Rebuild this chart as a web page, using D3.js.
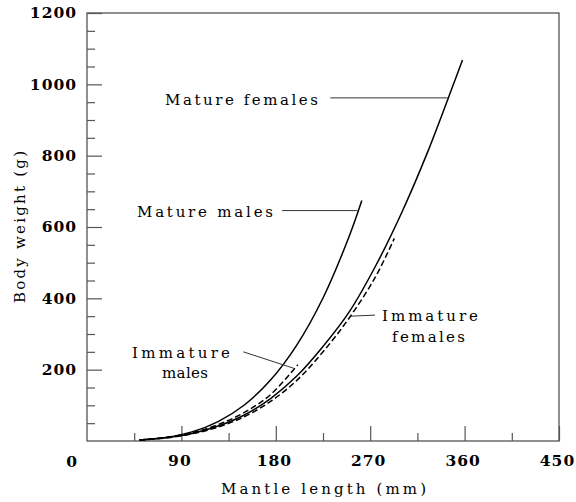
<!DOCTYPE html>
<html>
<head>
<meta charset="utf-8">
<script src="https://cdn.jsdelivr.net/npm/d3@7"></script>
<style>
  html, body { margin: 0; padding: 0; background: #fff; }
  svg { display: block; }
  .tick text { font-family: "DejaVu Serif", "Liberation Serif", "Times New Roman", Times, serif; font-weight: bold; font-size: 15.5px; letter-spacing: 1px; fill: #000; }
  .lbl { font-family: "DejaVu Serif", "Liberation Serif", "Times New Roman", Times, serif; font-size: 15px; fill: #000; }
</style>
</head>
<body>
<svg id="chart" width="576" height="502"></svg>
<script>
// ---- data ----
const matureFemalesL = [50, 75, 100, 125, 150, 175, 200, 225, 250, 275, 300, 325, 350, 358];
const matureFemalesW = [3, 9, 21, 42, 73, 119, 182, 265, 362, 490, 640, 812, 1005, 1068];

const matureMalesL = [50, 75, 100, 125, 150, 175, 200, 225, 250, 262];
const matureMalesW = [2.5, 9.5, 25.5, 54.5, 101, 171, 269, 401, 574, 674];

const immatureFemalesL = [50, 75, 100, 125, 150, 175, 200, 225, 250, 275, 293];
const immatureFemalesW = [2.5, 8.5, 20, 39, 68, 111, 170, 250, 345, 460, 568];

const immatureMalesL = [50, 75, 100, 125, 150, 175, 201];
const immatureMalesW = [3, 10, 23, 46, 80, 130, 214];

const xMajorTicks = [90, 180, 270, 360, 450];
const xMinorTicks = [45, 135, 225, 315, 405];
const yMajorTicks = [200, 400, 600, 800, 1000, 1200];
const yMinorTicks = [50, 100, 150, 250, 300, 350, 450, 500, 550, 650, 700, 750, 850, 900, 950, 1050, 1100, 1150];

// annotation leaders: [x1, y1, x2, y2] in data units
const labelNames = ["Mature females", "Mature males", "Immature males", "Immature females"];
const leaderMF = [232, 962, 344, 962];
const leaderMM = [186, 646, 258, 646];
const leaderIM = [149, 250, 197, 204];
const leaderIF = [274.6, 353, 251.7, 350];

// ---- layout ----
const svg = d3.select("#chart");
const mLeft = 87, mRight = 559, mTop = 13, mBottom = 441;
const x = d3.scaleLinear().domain([0, 450]).range([mLeft, mRight]);
const y = d3.scaleLinear().domain([0, 1200]).range([mBottom, mTop]);
const axisColor = "#555";
const serif = '"DejaVu Serif", "Liberation Serif", "Times New Roman", Times, serif';

// frame
svg.append("rect").attr("x", mLeft).attr("y", mTop)
  .attr("width", mRight - mLeft).attr("height", mBottom - mTop)
  .attr("fill", "none").attr("stroke", axisColor).attr("stroke-width", 1.3);

// y axis
const gy = svg.append("g").attr("transform", `translate(${mLeft},0)`)
  .call(d3.axisLeft(y).tickValues(yMajorTicks).tickSize(-15).tickPadding(10).tickFormat(d3.format("d")));
const gy2 = svg.append("g").attr("transform", `translate(${mLeft},0)`)
  .call(d3.axisLeft(y).tickValues(yMinorTicks).tickSize(-8).tickFormat(""));
// x axis
const gx = svg.append("g").attr("transform", `translate(0,${mBottom})`)
  .call(d3.axisBottom(x).tickValues(xMajorTicks).tickSize(-15).tickPadding(14).tickFormat(d3.format("d")));
const gx2 = svg.append("g").attr("transform", `translate(0,${mBottom})`)
  .call(d3.axisBottom(x).tickValues(xMinorTicks).tickSize(-8).tickFormat(""));
[gx, gy, gx2, gy2].forEach(g => {
  g.select(".domain").remove();
  g.selectAll(".tick line").attr("stroke", axisColor).attr("stroke-width", 1.2);
});
gx.selectAll(".tick text").attr("dx", "-2px");
// origin label "0"
svg.append("text")
  .attr("x", x(0) - 10).attr("y", mBottom + 26)
  .attr("text-anchor", "end")
  .style("font-family", serif)
  .style("font-weight", "bold").style("font-size", "15.5px")
  .text("0");

// axis titles
svg.append("text").attr("class", "lbl")
  .attr("x", (mLeft + mRight) / 2 - 102).attr("y", 494)
  .attr("textLength", 205).attr("lengthAdjust", "spacing")
  .text("Mantle length (mm)");
svg.append("text").attr("class", "lbl")
  .attr("transform", `translate(25,${(mTop + mBottom) / 2 + 76}) rotate(-90)`)
  .attr("textLength", 152).attr("lengthAdjust", "spacing")
  .text("Body weight (g)");

// curves
const line = d3.line().x(d => x(d[0])).y(d => y(d[1])).curve(d3.curveCatmullRom);
const series = [
  { L: matureFemalesL, W: matureFemalesW, dash: null },
  { L: matureMalesL, W: matureMalesW, dash: null },
  { L: immatureFemalesL, W: immatureFemalesW, dash: "6,3" },
  { L: immatureMalesL, W: immatureMalesW, dash: "6,3" }
];
series.forEach(s => {
  svg.append("path")
    .datum(s.L.map((l, i) => [l, s.W[i]]))
    .attr("d", line)
    .attr("fill", "none")
    .attr("stroke", "#000")
    .attr("stroke-width", 1.5)
    .attr("stroke-dasharray", s.dash);
});

// leaders
[leaderMF, leaderMM, leaderIM, leaderIF].forEach(l => {
  svg.append("line")
    .attr("x1", x(l[0])).attr("y1", y(l[1]))
    .attr("x2", x(l[2])).attr("y2", y(l[3]))
    .attr("stroke", "#333").attr("stroke-width", 1);
});

// labels
function lbl(txt, px, py, len) {
  svg.append("text").attr("class", "lbl")
    .attr("x", px).attr("y", py)
    .attr("textLength", len).attr("lengthAdjust", "spacing")
    .text(txt);
}
lbl("Mature females", 165, 105, 153);
lbl("Mature males", 137, 217, 136);
lbl("Immature", 132, 358, 98);
lbl("males", 162, 378, 46);
lbl("Immature", 382, 321, 96);
lbl("females", 392, 342, 73);
</script>
</body>
</html>
